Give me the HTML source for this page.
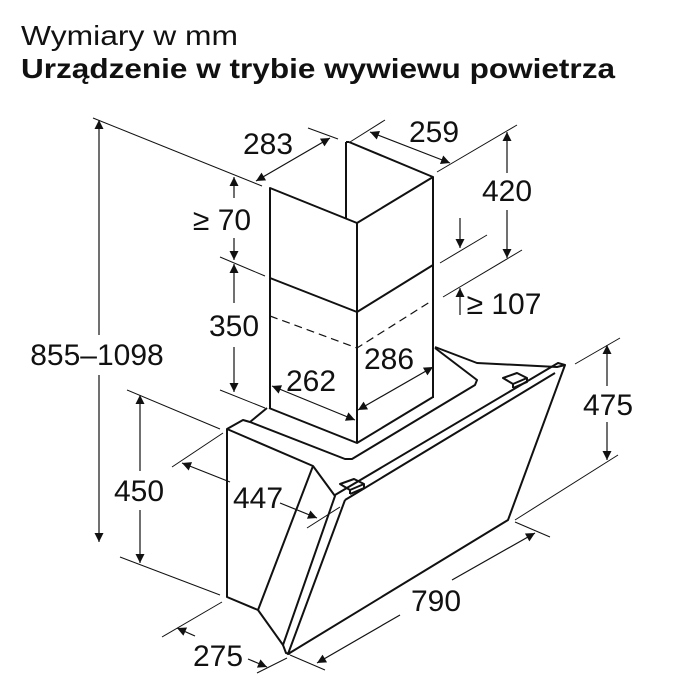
<!DOCTYPE html>
<html><head><meta charset="utf-8"><style>
html,body{margin:0;padding:0;background:#fff;}
svg{display:block;}
text{font-family:"Liberation Sans",sans-serif;fill:#111;}
</style></head><body>
<svg width="700" height="700" viewBox="0 0 700 700" xmlns="http://www.w3.org/2000/svg">
<defs>
<marker id="a" viewBox="0 0 10 10" refX="10" refY="5" markerWidth="14" markerHeight="9" orient="auto-start-reverse" markerUnits="userSpaceOnUse">
<path d="M0,0 L10,5 L0,10 z" fill="#111"/></marker>
</defs>
<text x="21" y="45" font-size="28" textLength="217" lengthAdjust="spacingAndGlyphs">Wymiary w mm</text>
<text x="21" y="78" font-size="28" font-weight="bold" textLength="594" lengthAdjust="spacingAndGlyphs">Urządzenie w trybie wywiewu powietrza</text>

<g stroke="#111" stroke-width="1" fill="none">
<line x1="93" y1="118" x2="262" y2="186"/>
<line x1="308" y1="128" x2="338" y2="139"/>
<line x1="350" y1="142" x2="385" y2="120"/>
<line x1="437" y1="172" x2="517" y2="125"/>
<line x1="440" y1="263" x2="487" y2="235"/>
<line x1="443" y1="297" x2="522" y2="250"/>
<line x1="220" y1="257" x2="265" y2="276"/>
<line x1="220" y1="390" x2="265" y2="408"/>
<line x1="127" y1="390" x2="220" y2="429"/>
<line x1="120" y1="557" x2="220" y2="595"/>
<line x1="172" y1="467" x2="223" y2="433"/>
<line x1="307" y1="528" x2="340" y2="507"/>
<line x1="575" y1="364" x2="620" y2="338"/>
<line x1="515" y1="520" x2="618" y2="455"/>
<line x1="515" y1="522" x2="550" y2="537"/>
<line x1="290" y1="655" x2="325" y2="670"/>
<line x1="162" y1="637" x2="222" y2="602"/>
<line x1="257" y1="673" x2="287" y2="658"/>
</g>

<g stroke="#111" stroke-width="1.2" fill="none">
<line x1="99" y1="335" x2="99" y2="120" marker-end="url(#a)"/>
<line x1="99" y1="375" x2="99" y2="542" marker-end="url(#a)"/>
<line x1="256" y1="181" x2="330" y2="138" marker-start="url(#a)" marker-end="url(#a)"/>
<line x1="370" y1="132" x2="450" y2="163" marker-start="url(#a)" marker-end="url(#a)"/>
<line x1="507" y1="173" x2="507" y2="132" marker-end="url(#a)"/>
<line x1="507" y1="210" x2="507" y2="258" marker-end="url(#a)"/>
<line x1="460" y1="218" x2="460" y2="248" marker-end="url(#a)"/>
<line x1="460" y1="315" x2="460" y2="288" marker-end="url(#a)"/>
<line x1="234" y1="198" x2="234" y2="177" marker-end="url(#a)"/>
<line x1="234" y1="238" x2="234" y2="260" marker-end="url(#a)"/>
<line x1="234" y1="303" x2="234" y2="264" marker-end="url(#a)"/>
<line x1="234" y1="347" x2="234" y2="392" marker-end="url(#a)"/>
<line x1="272" y1="386" x2="355" y2="420" marker-start="url(#a)" marker-end="url(#a)"/>
<line x1="358" y1="410" x2="433" y2="367" marker-start="url(#a)" marker-end="url(#a)"/>
<line x1="607" y1="386" x2="607" y2="345" marker-end="url(#a)"/>
<line x1="607" y1="422" x2="607" y2="460" marker-end="url(#a)"/>
<line x1="140" y1="471" x2="140" y2="395" marker-end="url(#a)"/>
<line x1="140" y1="510" x2="140" y2="563" marker-end="url(#a)"/>
<line x1="230" y1="482" x2="182" y2="463" marker-end="url(#a)"/>
<line x1="280" y1="503" x2="317" y2="518" marker-end="url(#a)"/>
<line x1="452" y1="580" x2="535" y2="533" marker-end="url(#a)"/>
<line x1="400" y1="615" x2="317" y2="663" marker-end="url(#a)"/>
<line x1="195" y1="636" x2="177" y2="628" marker-end="url(#a)"/>
<line x1="248" y1="659" x2="267" y2="667" marker-end="url(#a)"/>
</g>

<g stroke="#111" stroke-width="2" fill="none" stroke-linejoin="round">
<polyline points="270,408 270,188 357,223 433,177 433,398"/>
<line x1="357" y1="223" x2="357" y2="443"/>
<polyline points="270,278 357,312 433,265"/>
<line x1="346" y1="142" x2="346" y2="218"/>
<line x1="349" y1="142" x2="433" y2="177"/>
<line x1="346" y1="142" x2="349" y2="142"/>
<polyline points="269,408 357,443 433,397"/>
</g>
<g stroke="#111" stroke-width="1.2" fill="none" stroke-dasharray="8,5">
<polyline points="270,316 357,348 433,300"/>
</g>

<g stroke="#111" stroke-width="2" fill="none" stroke-linejoin="round">
<polyline points="227,429 243,420 250,422 267,408"/>
<polyline points="250,422 345,459 352,459 475,385 477,380 435,348"/>
<polyline points="435,347 477,363 557,367 565,365"/>
<polygon points="227,429 313,466 258,610 227,597"/>
<polyline points="313,466 335,496 283,645 258,610"/>
<polyline points="283,645 286,653 290,654"/>
<polyline points="345,500 288,654 508,520 565,365 558,363 335,495"/>
<line x1="345" y1="500" x2="555" y2="373"/>
<path d="M340,484 l14,-5 l10,5 l-14,6 z M350,490 l0,4 M364,484 l0,4 l-14,6"/>
<path d="M503,378 l14,-5 l10,5 l-14,6 z M513,384 l0,4 M527,378 l0,4 l-14,6"/>
</g>

<g font-size="30">
<text x="97" y="365" text-anchor="middle">855–1098</text>
<text x="268" y="154" text-anchor="middle">283</text>
<text x="434" y="142" text-anchor="middle">259</text>
<text x="507" y="201" text-anchor="middle">420</text>
<text x="222" y="230" text-anchor="middle">≥ 70</text>
<text x="234" y="336" text-anchor="middle">350</text>
<text x="504" y="314" text-anchor="middle">≥ 107</text>
<text x="311" y="391" text-anchor="middle">262</text>
<text x="389" y="369" text-anchor="middle">286</text>
<text x="608" y="415" text-anchor="middle">475</text>
<text x="139" y="501" text-anchor="middle">450</text>
<text x="258" y="508" text-anchor="middle">447</text>
<text x="436" y="611" text-anchor="middle">790</text>
<text x="218" y="666" text-anchor="middle">275</text>
</g>
</svg>
</body></html>
